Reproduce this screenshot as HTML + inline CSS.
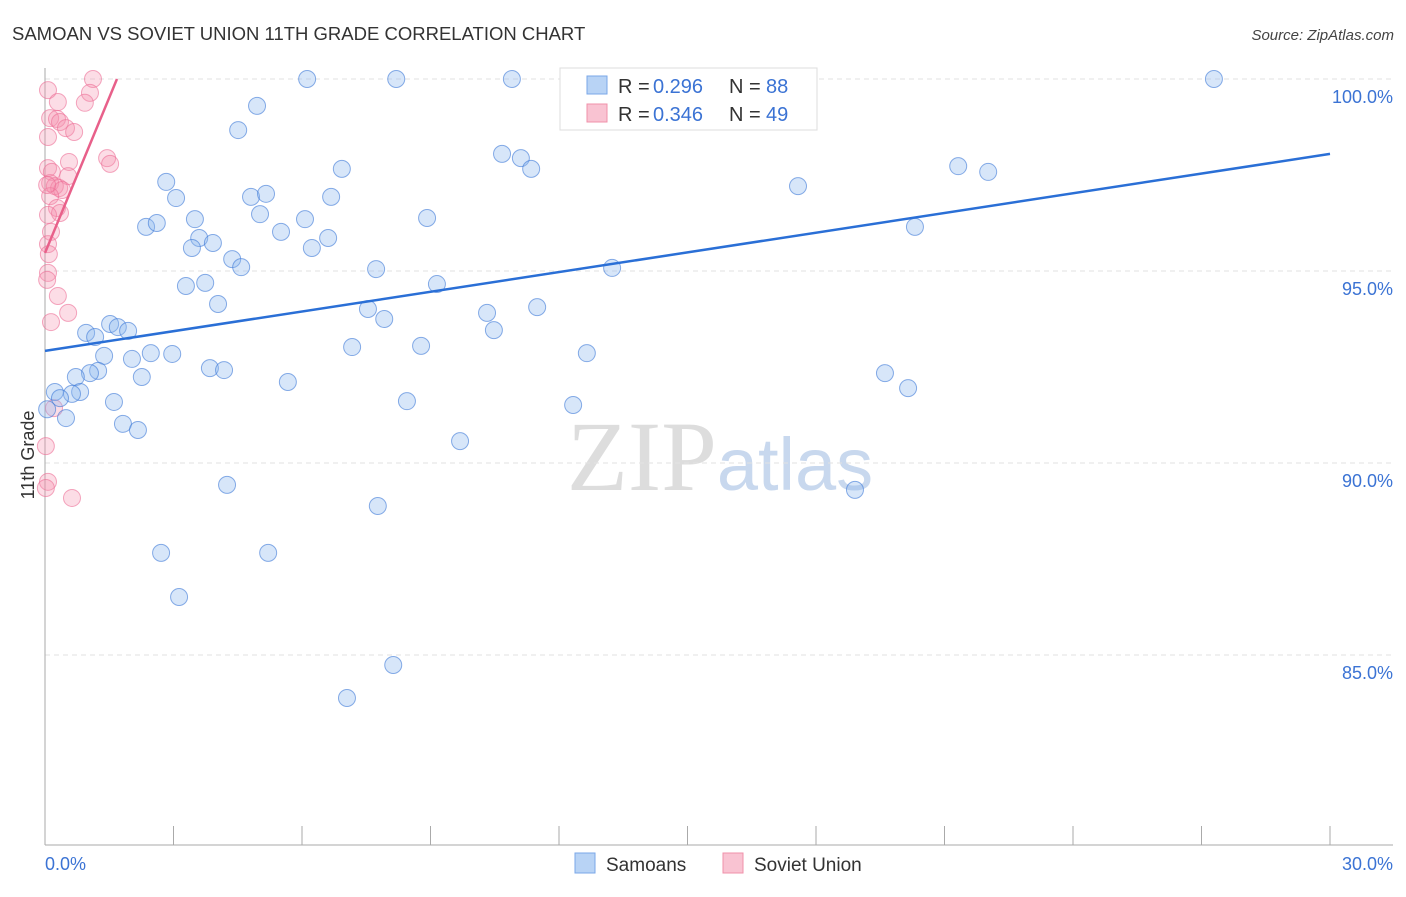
<!DOCTYPE html>
<html><head><meta charset="utf-8"><style>
body{margin:0;background:#fff;font-family:"Liberation Sans",sans-serif}
</style></head><body>
<svg id="chart" width="1406" height="892" xmlns="http://www.w3.org/2000/svg" font-family="Liberation Sans, sans-serif">
<text x="12" y="40" font-size="18.5" fill="#333">SAMOAN VS SOVIET UNION 11TH GRADE CORRELATION CHART</text>
<text x="1394" y="40" font-size="15" fill="#444" text-anchor="end" font-style="italic">Source: ZipAtlas.com</text>
<text x="720" y="490" font-size="100" text-anchor="middle"><tspan fill="#ddd" font-family="Liberation Serif, serif">ZIP</tspan><tspan fill="#c8d8ee" font-size="74">atlas</tspan></text>
<g id="grid"></g><g id="axes"></g><g id="marks"></g>
<g>
<rect x="560" y="68" width="257" height="62" fill="#fff" stroke="#ddd"/>
<rect x="587" y="76" width="20" height="18" fill="#b8d3f5" stroke="#7aa7e8"/>
<text x="618" y="93" font-size="20" fill="#333">R =</text>
<text x="653" y="93" font-size="20" fill="#3b73d4">0.296</text>
<text x="729" y="93" font-size="20" fill="#333">N =</text>
<text x="766" y="93" font-size="20" fill="#3b73d4">88</text>
<rect x="587" y="104" width="20" height="18" fill="#f9c3d2" stroke="#f090aa"/>
<text x="618" y="121" font-size="20" fill="#333">R =</text>
<text x="653" y="121" font-size="20" fill="#3b73d4">0.346</text>
<text x="729" y="121" font-size="20" fill="#333">N =</text>
<text x="766" y="121" font-size="20" fill="#3b73d4">49</text>
</g>
<g>
<rect x="575" y="853" width="20" height="20" fill="#b8d3f5" stroke="#7aa7e8"/>
<text x="606" y="871" font-size="19" fill="#333">Samoans</text>
<rect x="723" y="853" width="20" height="20" fill="#f9c3d2" stroke="#f090aa"/>
<text x="754" y="871" font-size="19" fill="#333">Soviet Union</text>
</g>
<text transform="translate(34,455) rotate(-90)" font-size="18" fill="#333" text-anchor="middle">11th Grade</text>
</svg>
<script>
const blueX=[6.12,8.20,10.90,13.99,14.97,27.29,4.95,4.51,10.67,11.11,11.35,6.93,2.83,17.58,21.32,22.02,3.06,4.81,5.16,6.68,5.02,3.50,6.07,8.92,2.36,2.61,5.51,20.31,6.61,3.60,3.92,3.43,6.23,4.37,4.58,7.73,13.24,3.29,3.74,9.15,4.04,7.54,11.49,10.32,7.92,10.48,1.52,1.70,1.94,0.96,1.17,2.47,2.97,7.17,8.78,12.65,1.38,2.03,3.85,4.18,1.24,1.05,19.61,0.72,2.26,5.67,20.15,0.23,0.82,0.63,0.35,1.61,8.45,12.33,0.49,1.82,2.17,9.69,4.25,18.91,7.77,2.71,5.21,3.13,8.13,7.05,0.05];
const blueY=[100,100,100,100,100,100,99.30,98.67,98.05,97.94,97.66,97.66,97.32,97.21,97.73,97.58,96.90,96.93,97.01,96.93,96.48,96.35,96.35,96.38,96.15,96.25,96.02,96.15,95.86,95.86,95.73,95.60,95.60,95.31,95.10,95.05,95.08,94.61,94.69,94.66,94.14,94.01,94.06,93.91,93.75,93.46,93.62,93.54,93.44,93.39,93.28,92.86,92.84,93.02,93.05,92.86,92.79,92.71,92.47,92.42,92.40,92.34,92.34,92.24,92.24,92.11,91.95,91.85,91.85,91.80,91.69,91.59,91.61,91.51,91.17,91.02,90.86,90.57,89.43,89.30,88.88,87.66,87.66,86.51,84.74,83.88,91.40];
const pinkX=[1.12,0.07,1.05,0.30,0.93,0.12,0.28,0.35,0.49,0.68,0.07,1.45,1.52,0.56,0.07,0.16,0.54,0.12,0.23,0.33,0.40,0.12,0.28,0.35,0.07,0.14,0.07,0.09,0.07,0.05,0.30,0.54,0.14,0.21,0.02,0.07,0.02,0.63,0.05];
const pinkY=[100,99.71,99.64,99.40,99.38,98.98,98.96,98.88,98.72,98.62,98.49,97.94,97.79,97.84,97.68,97.58,97.47,97.29,97.21,97.16,97.11,96.95,96.64,96.51,96.46,96.02,95.70,95.44,94.95,94.77,94.35,93.91,93.67,91.43,90.44,89.51,89.35,89.09,97.24];
const blueTrend=[[0,92.92],[30,98.05]];
const pinkTrend=[[0,95.47],[1.68,100]];
const yTicks=[100,95,90,85];
const xTickLabels=["0.0%","30.0%"];

const NS="http://www.w3.org/2000/svg";
const sx=v=>45+v*(1285/30);
const sy=v=>79+(100-v)*38.4;
function mk(tag,attrs,parent){const e=document.createElementNS(NS,tag);for(const k in attrs)e.setAttribute(k,attrs[k]);document.getElementById(parent).appendChild(e);return e;}
yTicks.forEach(t=>{
  const l=mk('line',{x1:45,x2:1393,y1:sy(t),y2:sy(t),stroke:'#e2e2e2','stroke-dasharray':'5,4'},'grid');
  
  
  const tx=mk('text',{x:1393,y:sy(t)+24,'font-size':18,fill:'#3b73d4','text-anchor':'end'},'axes');
  tx.textContent=t.toFixed(1)+'%';
  
  
});
const ya=mk('line',{x1:45,x2:45,y1:68,y2:845,stroke:'#aaa'},'axes');


const xa=mk('line',{x1:45,x2:1393,y1:845,y2:845,stroke:'#aaa'},'axes');


for(let i=0;i<=10;i++){
  const t=mk('line',{x1:sx(i*3),x2:sx(i*3),y1:826,y2:845,stroke:'#aaa'},'axes');
  
  
}
[[0,'start'],[30,'end']].forEach((p,i)=>{
  const t=mk('text',{x:sx(p[0])+(i?63:0),y:870,'font-size':18,fill:'#3b73d4','text-anchor':p[1]},'axes');
  t.textContent=xTickLabels[i];
  
  
});
pinkX.forEach((x,i)=>{
  const c=mk('circle',{cx:sx(x),cy:sy(pinkY[i]),r:8.5,fill:'rgba(244,143,173,0.3)',stroke:'rgba(236,110,150,0.6)','stroke-width':1},'marks');
  
  
});
blueX.forEach((x,i)=>{
  const c=mk('circle',{cx:sx(x),cy:sy(blueY[i]),r:8.5,fill:'rgba(140,182,238,0.35)',stroke:'rgba(60,120,215,0.6)','stroke-width':1},'marks');
  
  
});
const bl=mk('line',{x1:sx(blueTrend[0][0]),y1:sy(blueTrend[0][1]),x2:sx(blueTrend[1][0]),y2:sy(blueTrend[1][1]),stroke:'#2a6fd6','stroke-width':2.5},'marks');


const pl=mk('line',{x1:sx(pinkTrend[0][0]),y1:sy(pinkTrend[0][1]),x2:sx(pinkTrend[1][0]),y2:sy(pinkTrend[1][1]),stroke:'#e8608a','stroke-width':2.5},'marks');


</script>
</body></html>
